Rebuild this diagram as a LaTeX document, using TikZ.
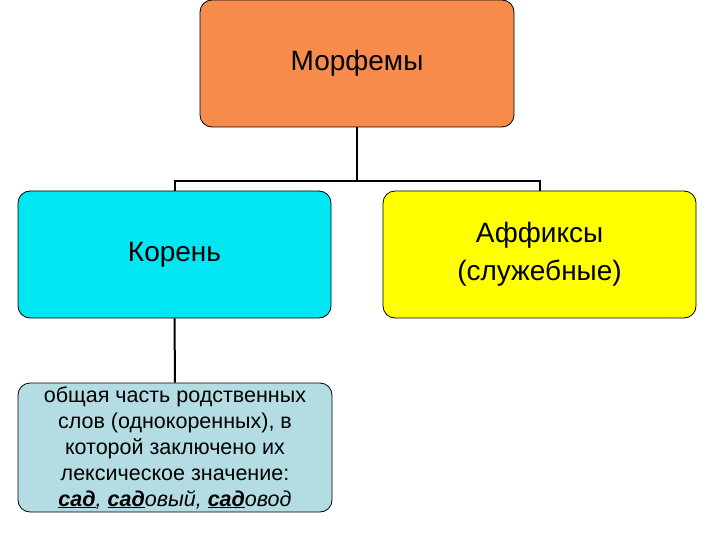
\documentclass[tikz,border=0pt]{standalone}
\usepackage{fontspec}
\setmainfont{Liberation Sans}
\newcommand{\myul}[1]{\underline{#1}}
\begin{document}
\begin{tikzpicture}[x=1pt,y=-1pt,
  box/.style={draw=black,rounded corners=12pt,line width=0.8pt,align=center,inner sep=0pt},
  conn/.style={line width=2pt}]
\useasboundingbox (0,0) rectangle (720,540);
\definecolor{orng}{HTML}{F68B4C}
\definecolor{cyn}{HTML}{00E6F2}
\definecolor{ylw}{HTML}{FFFF00}
\definecolor{tl}{HTML}{B3DCE3}
\node[box,fill=orng,minimum width=314pt,minimum height=127pt,font=\fontsize{28}{32}\selectfont] (m) at (357,63.5) {Морфемы};
\node[box,fill=cyn,minimum width=313pt,minimum height=127pt,font=\fontsize{28}{32}\selectfont] (k) at (174.5,254.5) {Корень};
\node[box,fill=ylw,minimum width=313pt,minimum height=127pt,font=\fontsize{28}{38}\selectfont] (a) at (539.5,254.5) {Аффиксы\\(служебные)};
\node[box,fill=tl,minimum width=314pt,minimum height=129pt,font=\fontsize{21.5}{26}\selectfont] (o) at (175,447.5) {общая часть родственных\\слов (однокоренных), в\\которой заключено их\\лексическое значение:\\\itshape\myul{\bfseries сад}, \myul{\bfseries сад}овый, \myul{\bfseries сад}овод};
\coordinate (j) at (357,181);
\draw[conn] (m.south) -- (j);
\draw[conn] (k.north) |- (j) -| (a.north);
\draw[conn] (k.south) -- (o.north);
\end{tikzpicture}
\end{document}
